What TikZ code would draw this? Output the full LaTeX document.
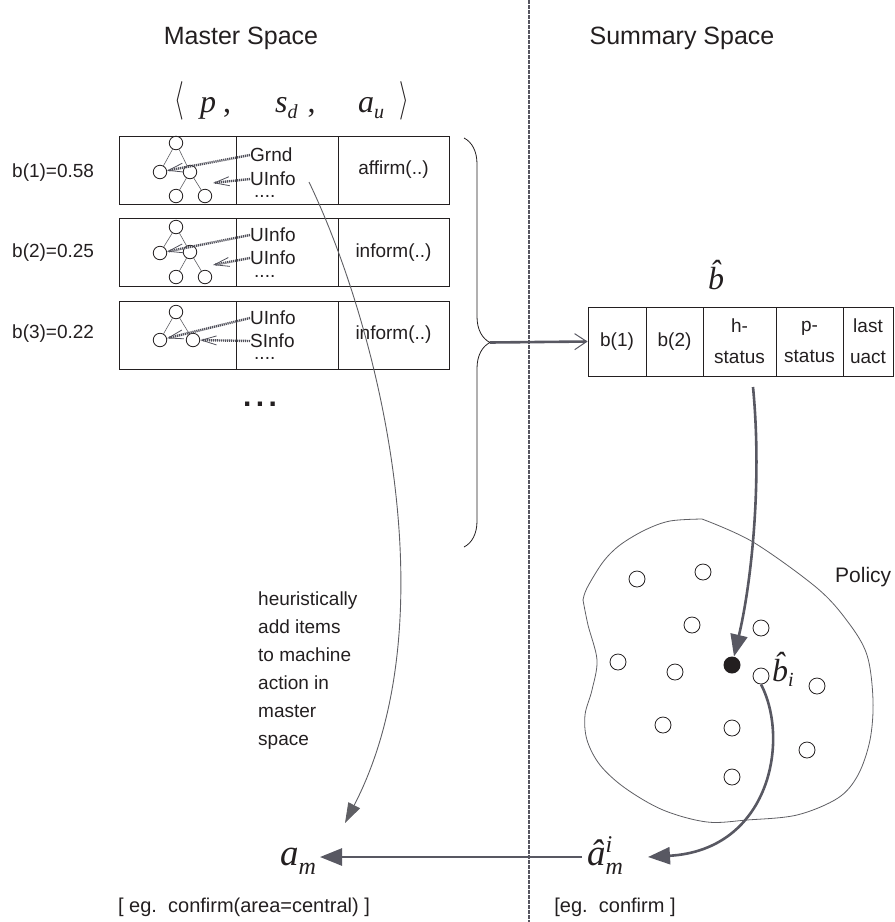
\documentclass[tikz,border=0pt]{standalone}
\usepackage{fontspec}
\setmainfont{Liberation Sans}
\newfontfamily\tms{Liberation Serif}
\usetikzlibrary{arrows.meta,decorations.pathreplacing}
\definecolor{ink}{RGB}{35,31,32}
\definecolor{arrowgray}{RGB}{88,88,98}
\definecolor{dotgray}{RGB}{80,80,90}
\definecolor{linegray}{RGB}{95,95,100}
\definecolor{divgray}{RGB}{85,85,95}
\begin{document}
\begin{tikzpicture}[x=1pt,y=-1pt,
  lbl/.style={font=\fontsize{19}{22}\selectfont, text=ink, inner sep=0pt},
  hdr/.style={font=\fontsize{25}{30}\selectfont, text=ink, inner sep=0pt},
  cell/.style={draw=ink, line width=0.9pt, minimum height=68pt, inner sep=0pt, text=ink, font=\fontsize{19}{31}\selectfont, align=center},
  tc/.style={circle, draw=ink, line width=0.8pt, minimum size=13.5pt, inner sep=0pt},
  pc/.style={circle, draw=ink, line width=0.8pt, minimum size=16pt, inner sep=0pt},
  treeline/.style={draw=linegray, line width=0.6pt},
  dotarrow/.style={draw=dotgray, line width=2.4pt, dash pattern=on 1.2pt off 0.8pt, -{Straight Barb[length=15pt,width=9pt,line width=0.8pt]}},
  bigarrow/.style={draw=arrowgray, line width=2.6pt, -{Triangle[length=22pt,width=17pt]}},
  thinarrow/.style={draw=linegray, line width=0.9pt, -{Triangle[length=20pt,width=13pt]}},
  openarrow/.style={draw=arrowgray, line width=2.6pt, -{Straight Barb[length=12pt,width=16pt,line width=1pt]}},
  mth/.style={font=\fontsize{32}{36}\selectfont\tms\itshape, text=ink, inner sep=0pt, anchor=base west},
  mthb/.style={font=\fontsize{37}{40}\selectfont\tms\itshape, text=ink, inner sep=0pt, anchor=base west},
  angl/.style={font=\fontsize{37}{40}\selectfont, text=ink, inner sep=0pt, anchor=center},
  blobline/.style={draw=linegray, line width=0.8pt},
  divider/.style={draw=divgray, line width=1.8pt, dash pattern=on 4pt off 1pt}
]
\useasboundingbox (0,0) rectangle (895,922);

% headers
\node[hdr] (ms) at (241,38) {Master Space};
\node[hdr] (ss) at (682,38) {Summary Space};

% tuple
\node[angl] (lang) at (179,101) {\scalebox{1}[1.55]{$\langle$}};
\node[mth] (tp) at (200,112) {p\hspace{7pt}\upshape,};
\node[mth] (tsd) at (275,112) {s\raisebox{-6pt}{\fontsize{20}{20}\selectfont d}\hspace{10pt}\upshape,};
\node[mth] (tau) at (358,112) {a\raisebox{-6pt}{\fontsize{20}{20}\selectfont u}};
\node[angl] (rang) at (404,101) {\scalebox{1}[1.55]{$\rangle$}};

% left labels
\node[lbl, anchor=west] (b1l) at (12,173) {b(1)=0.58};
\node[lbl, anchor=west] (b2l) at (12,253) {b(2)=0.25};
\node[lbl, anchor=west] (b3l) at (12,334) {b(3)=0.22};

% rows of hypotheses
\node[cell, minimum width=117pt] (r1a) at (177.5,170) {};
\node[cell, minimum width=102pt] (r1b) at (287,170) {};
\node[cell, minimum width=111pt] (r1c) at (393.5,170) {affirm(..)};
\node[cell, minimum width=117pt] (r2a) at (177.5,252.5) {};
\node[cell, minimum width=102pt] (r2b) at (287,252.5) {};
\node[cell, minimum width=111pt] (r2c) at (393.5,252.5) {inform(..)};
\node[cell, minimum width=117pt] (r3a) at (177.5,335) {};
\node[cell, minimum width=102pt] (r3b) at (287,335) {};
\node[cell, minimum width=111pt] (r3c) at (393.5,335) {inform(..)};

% trees row 1
\node[tc] (r1t) at (176,143) {};
\node[tc] (r1l) at (160,172) {};
\node[tc] (r1m) at (190,172) {};
\node[tc] (r1bl) at (176,196) {};
\node[tc] (r1br) at (205,196) {};
\draw[treeline] (r1t) -- (r1l);
\draw[treeline] (r1t) -- (r1m);
\draw[treeline] (r1m) -- (r1bl);
\draw[treeline] (r1m) -- (r1br);
% row 2
\node[tc] (r2t) at (176,227) {};
\node[tc] (r2l) at (160,253) {};
\node[tc] (r2m) at (190,252) {};
\node[tc] (r2bl) at (176,277) {};
\node[tc] (r2br) at (205,277) {};
\draw[treeline] (r2t) -- (r2l);
\draw[treeline] (r2t) -- (r2m);
\draw[treeline] (r2m) -- (r2bl);
\draw[treeline] (r2m) -- (r2br);
% row 3
\node[tc] (r3t) at (176,312) {};
\node[tc] (r3l) at (160,340) {};
\node[tc] (r3m) at (193,340) {};
\draw[treeline] (r3t) -- (r3l);
\draw[treeline] (r3t) -- (r3m);

% column 2 texts
\node[lbl, anchor=west] (g1) at (250,155) {Grnd};
\node[lbl, anchor=west] (u1) at (250,179) {UInfo};
\node[lbl, anchor=west] (d1) at (254,196) {....};
\node[lbl, anchor=west] (u2a) at (250,235) {UInfo};
\node[lbl, anchor=west] (u2b) at (250,258) {UInfo};
\node[lbl, anchor=west] (d2) at (254,276) {....};
\node[lbl, anchor=west] (u3a) at (250,318) {UInfo};
\node[lbl, anchor=west] (s3) at (250,341) {SInfo};
\node[lbl, anchor=west] (d3) at (254,358) {....};

\coordinate (p1u) at (213,183);
\coordinate (p2u) at (213,265);
\draw[dotarrow] (g1.west) -- (r1l);
\draw[dotarrow] (u1.west) -- (p1u);
\draw[dotarrow] (u2a.west) -- (r2l);
\draw[dotarrow] (u2b.west) -- (p2u);
\draw[dotarrow] (u3a.west) -- (r3l);
\draw[dotarrow] (s3.west) -- (r3m);

% ellipsis
\node[font=\fontsize{30}{30}\selectfont\bfseries, text=ink, inner sep=0pt] (ell) at (260,404) {.\kern4.4pt.\kern4.4pt.};

% brace
\draw[decorate, decoration={brace, amplitude=26pt}, draw=ink, line width=0.8pt] (464,138) -- (464,547);
\coordinate (btip) at (490,342.5);

% summary vector
\node[font=\fontsize{32}{36}\selectfont\tms\itshape, text=ink, inner sep=0pt, anchor=base] (bhat) at (716,289) {\^{b}};
\node[cell, minimum width=58pt, minimum height=69pt] (v1) at (617,341.5) {b(1)};
\node[cell, minimum width=57pt, minimum height=69pt] (v2) at (674.5,341.5) {b(2)};
\node[cell, minimum width=73pt, minimum height=69pt] (v3) at (739.5,341.5) {h-\\status};
\node[cell, minimum width=67pt, minimum height=69pt] (v4) at (809.5,341.5) {p-\\status};
\node[cell, minimum width=50pt, minimum height=69pt] (v5) at (868,341.5) {last\\uact};
\draw[openarrow] (btip) -- (v1.west);

% policy blob
\draw[blobline] plot[smooth, tension=0.55] coordinates {(583,600) (587,588) (603,562) (620,545) (645,530) (670,521) (702,519)}
  -- plot[smooth, tension=0.55] coordinates {(702,519) (753,542) (817,588) (848,622) (867,655) (873,700) (870,740) (858,775) (838,798) (797,815) (747,820) (707,822) (663,810) (625,788) (600,765) (587,740) (585,715) (592,690) (597,660) (588,625) (583,600)};
\node[lbl, anchor=west, font=\fontsize{21}{24}\selectfont] (pol) at (835,577) {Policy};
\node[pc] (c1) at (637,579) {};
\node[pc] (c2) at (703,572) {};
\node[pc] (c3) at (692,625) {};
\node[pc] (c4) at (761,628) {};
\node[pc] (c5) at (618,662) {};
\node[pc] (c6) at (675,672) {};
\node[pc] (c7) at (761,676) {};
\node[pc] (c8) at (817,686) {};
\node[pc] (c9) at (663,725) {};
\node[pc] (c10) at (732,728) {};
\node[pc] (c11) at (807,750) {};
\node[pc] (c12) at (732,777) {};
\node[circle, fill=ink, minimum size=17pt, inner sep=0pt] (bdot) at (732,665) {};
\node[mth] (bhi) at (772,681) {\^{b}\raisebox{-5pt}{\fontsize{20}{20}\selectfont i}};

\coordinate (vs) at (753,387);
\draw[bigarrow] (vs) .. controls (762,480) and (752,580) .. (bdot);

% machine actions
\node[mthb] (am) at (280,865) {a\raisebox{-9pt}{\fontsize{24}{24}\selectfont m}};
\node[mthb] (amh) at (587,865) {\^{a}\raisebox{13pt}{\rlap{\fontsize{24}{24}\selectfont i}}\raisebox{-9pt}{\fontsize{24}{24}\selectfont m}};
\coordinate (amtip) at (648,857);
\draw[bigarrow] (c7.south) .. controls (790,740) and (770,850) .. (amtip);
\coordinate (hs) at (582,857);
\coordinate (he) at (320,857);
\draw[bigarrow] (hs) -- (he);

% heuristic arrow and text
\coordinate (ts) at (309,182);
\coordinate (te) at (345,823);
\draw[thinarrow] (ts) .. controls (380,330) and (450,620) .. (te);
\node[lbl, anchor=north west, align=left, font=\fontsize{19}{28}\selectfont] (heur) at (258,592) {heuristically\\add items\\to machine\\action in\\master\\space};

% examples
\node[lbl, font=\fontsize{20}{24}\selectfont] (ex1) at (244,907) {[ eg.\ \ confirm(area=central) ]};
\node[lbl, font=\fontsize{20}{24}\selectfont] (ex2) at (615,907) {[eg.\ \ confirm ]};

% divider
\draw[divider] (529,0) -- (529,922);
\end{tikzpicture}
\end{document}
